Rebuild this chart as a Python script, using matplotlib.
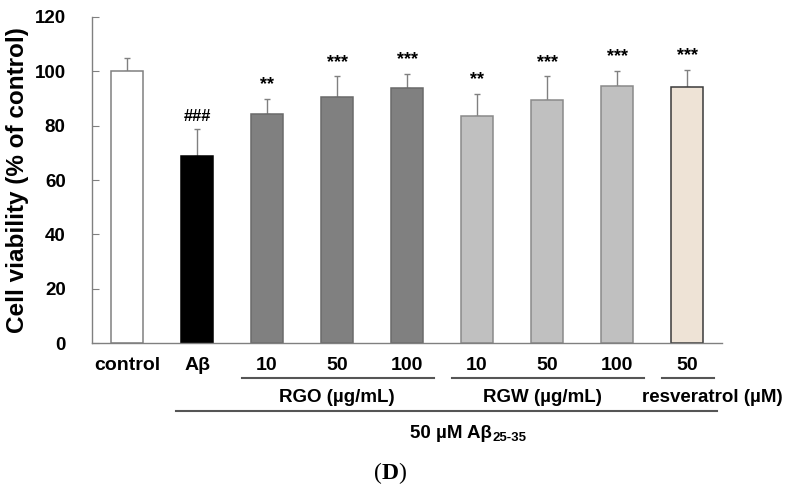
import matplotlib
matplotlib.use("Agg")
import matplotlib.pyplot as plt
from matplotlib.transforms import blended_transform_factory

plt.rcParams["font.family"] = ["Liberation Sans", "DejaVu Sans"]

groups = ["control", "Aβ", "10", "50", "100", "10", "50", "100", "50"]
viability = [100.0, 69.0, 84.3, 90.7, 93.7, 83.4, 89.4, 94.6, 94.2]
sd = [5.0, 9.6, 5.5, 7.4, 5.3, 8.2, 8.7, 5.5, 6.3]
marks = ["", "###", "**", "***", "***", "**", "***", "***", "***"]

# (label, first bar index, last bar index)
treatments = [("RGO (µg/mL)", 2, 4), ("RGW (µg/mL)", 5, 7), ("resveratrol (µM)", 8, 8)]

face = ["white", "black", "#808080", "#808080", "#808080",
        "#c0c0c0", "#c0c0c0", "#c0c0c0", "#eee3d6"]
edge = ["#808080", "black", "#6a6a6a", "#6a6a6a", "#6a6a6a",
        "#8a8a8a", "#8a8a8a", "#8a8a8a", "#3a3a3a"]


def main():
    fig = plt.figure(figsize=(7.9, 4.91), dpi=100)
    ax = fig.add_axes([0.1165, 0.3014, 0.7975, 0.664])

    x = list(range(len(groups)))
    ax.bar(x, viability, width=0.46, color=face, edgecolor=edge, linewidth=1.1, zorder=2)
    ax.errorbar(x, viability, yerr=[[0] * len(sd), sd], fmt="none",
                ecolor="#808080", elinewidth=1, capsize=2.5, capthick=1, zorder=1)

    for xi, v, e, m in zip(x, viability, sd, marks):
        if m:
            size = 12 if m.startswith("#") else 13
            ax.annotate(m, (xi, v + e), xytext=(0, 4), textcoords="offset points",
                        ha="center", va="bottom", fontsize=size, fontweight="bold")

    ax.set_xlim(-0.5, 8.5)
    ax.set_ylim(0, 120)
    ax.set_yticks(range(0, 121, 20))
    ax.set_xticks(x)
    ax.set_xticklabels(groups, fontsize=14, fontweight="bold")
    ax.tick_params(axis="x", length=0, pad=10)
    ax.tick_params(axis="y", direction="in", length=5, color="#808080",
                   pad=19, labelsize=13.5)
    for lab in ax.get_yticklabels():
        lab.set_fontweight("bold")
    ax.set_ylabel("Cell viability (% of control)", fontsize=17.5,
                  fontweight="bold", labelpad=4)

    for side in ("top", "right"):
        ax.spines[side].set_visible(False)
    for side in ("left", "bottom"):
        ax.spines[side].set_color("#808080")
        ax.spines[side].set_linewidth(1)

    # treatment group brackets under the axis
    tr = blended_transform_factory(ax.transData, fig.transFigure)
    for label, i0, i1 in treatments:
        x0, x1 = i0 - 0.36, i1 + 0.39
        ax.plot([x0, x1], [0.2301, 0.2301], color="#555555", lw=1.5,
                transform=tr, clip_on=False)
    ax.text(3.0, 0.1914, treatments[0][0], transform=tr, ha="center",
            va="center", fontsize=13.5, fontweight="bold")
    ax.text(5.94, 0.1914, treatments[1][0], transform=tr, ha="center",
            va="center", fontsize=13.5, fontweight="bold")
    ax.text(8.36, 0.1914, treatments[2][0], transform=tr, ha="center",
            va="center", fontsize=13.5, fontweight="bold")

    ax.plot([0.7, 8.43], [0.163, 0.163], color="#555555", lw=1.5,
            transform=tr, clip_on=False)
    main_t = ax.text(4.62, 0.118, "50 µM Aβ", transform=tr, ha="center",
                     va="center", fontsize=13.5, fontweight="bold")
    ax.annotate("25-35", xy=(1, 0), xycoords=main_t, xytext=(0.5, -1.5),
                textcoords="offset points", ha="left", va="bottom",
                fontsize=9.5, fontweight="bold")

    # panel letter
    p1 = fig.text(0.483, 0.0367, "(", ha="right", va="center", fontsize=17,
                  family="Liberation Serif")
    p2 = ax.annotate("D", xy=(1, 0), xycoords=p1, ha="left", va="bottom",
                     fontsize=17, fontweight="bold", family="Liberation Serif")
    ax.annotate(")", xy=(1, 0), xycoords=p2, ha="left", va="bottom",
                fontsize=17, family="Liberation Serif")

    fig.savefig("out.png", dpi=100)


if __name__ == "__main__":
    main()
